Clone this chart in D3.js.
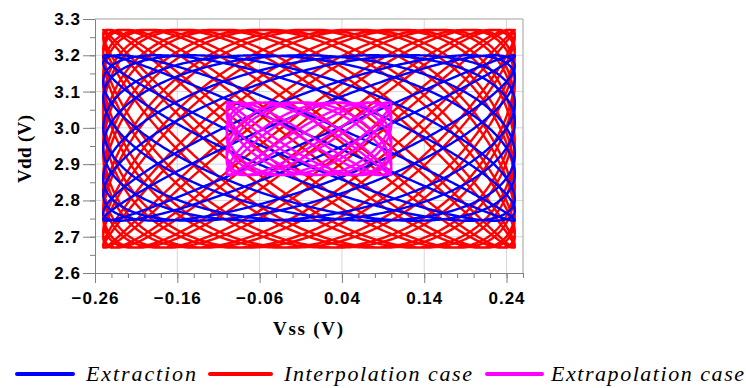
<!DOCTYPE html>
<html>
<head>
<meta charset="utf-8">
<style>
  body { margin: 0; background: #fff; }
  svg { display: block; font-family: 'Liberation Serif', 'Times New Roman', serif; }
  .axis text { font-weight: bold; font-size: 17px; letter-spacing: 1px; fill: #000; }
  .axis path, .axis line { stroke: #808080; }
  .grid line { stroke: #d6d6d6; stroke-width: 1; }
  .legend text { font-style: italic; font-size: 22px; fill: #000; }
</style>
</head>
<body>
<svg width="746" height="388"></svg>
<script src="https://cdn.jsdelivr.net/npm/d3@7/dist/d3.min.js"></script>
<script>
// legend order
let seriesNames = ["Extraction", "Interpolation case", "Extrapolation case"];
let seriesColors = ["#0000ff", "#ff0000", "#ff00ff"];

// sweep of each case: Vss swing, Vdd centre / swing, cycles
let vssAmp = [0.25, 0.25, 0.10];
let vddMid = [2.972, 2.97, 2.97];
let vddAmp = [0.228, 0.30, 0.10];
let vssCycles = [10, 19, 9];
let vddCycles = [11, 28, 13];
let vddPhase = [0.35, 0.2, 0.25];

// axis ticks
let xTicks = [-0.26, -0.16, -0.06, 0.04, 0.14, 0.24];
let yTicks = [2.6, 2.7, 2.8, 2.9, 3.0, 3.1, 3.2, 3.3];

let svg = d3.select("svg");
let margin = { left: 95, right: 523, top: 19, bottom: 273 };

let x = d3.scaleLinear().domain([-0.26, 0.26]).range([margin.left, margin.right]);
let y = d3.scaleLinear().domain([2.6, 3.3]).range([margin.bottom, margin.top]);

// grid
let grid = svg.append("g").attr("class", "grid");
grid.selectAll(".gx")
  .data(xTicks.slice(1))
  .join("line")
  .attr("x1", d => x(d)).attr("x2", d => x(d))
  .attr("y1", margin.top).attr("y2", margin.bottom);
grid.selectAll(".gy")
  .data(yTicks.slice(1, -1))
  .join("line")
  .attr("x1", margin.left).attr("x2", margin.right)
  .attr("y1", d => y(d)).attr("y2", d => y(d));

// frame top / right
svg.append("path")
  .attr("d", `M${margin.left},${margin.top}H${margin.right}V${margin.bottom}`)
  .attr("fill", "none")
  .attr("stroke", "#a0a0a0");

// curves
function sweep(i) {
  let n = 8000;
  return d3.range(n + 1).map(k => {
    let t = k / n * 2 * Math.PI;
    return {
      vss: vssAmp[i] * Math.sin(vssCycles[i] * t),
      vdd: vddMid[i] + vddAmp[i] * Math.sin(vddCycles[i] * t + vddPhase[i])
    };
  });
}

let line = d3.line().x(d => x(d.vss)).y(d => y(d.vdd));

// red underneath, then blue, magenta on top
[1, 0, 2].forEach(i => {
  svg.append("path")
    .datum(sweep(i))
    .attr("d", line)
    .attr("fill", "none")
    .attr("stroke", seriesColors[i])
    .attr("stroke-width", 2.4)
    .attr("stroke-linejoin", "round");
});

// axes
let minorX = d3.range(-0.26, 0.2601, 0.02);
let minorY = d3.range(2.6, 3.3001, 0.05);

svg.append("g")
  .attr("transform", `translate(0,${margin.bottom})`)
  .attr("class", "axis")
  .call(d3.axisBottom(x).tickValues(minorX).tickSize(5).tickFormat(""))
  .call(g => g.select(".domain").remove());
svg.append("g")
  .attr("transform", `translate(0,${margin.bottom})`)
  .attr("class", "axis")
  .call(d3.axisBottom(x).tickValues(xTicks).tickSize(10).tickSizeOuter(0)
    .tickFormat(d3.format(".2f")))
  .call(g => g.selectAll("text").attr("dy", "1.05em"));

svg.append("g")
  .attr("transform", `translate(${margin.left},0)`)
  .attr("class", "axis")
  .call(d3.axisLeft(y).tickValues(minorY).tickSize(5).tickFormat(""))
  .call(g => g.select(".domain").remove());
svg.append("g")
  .attr("transform", `translate(${margin.left},0)`)
  .attr("class", "axis")
  .call(d3.axisLeft(y).tickValues(yTicks).tickSize(12).tickSizeOuter(0)
    .tickFormat(d3.format(".1f")))
  .call(g => g.selectAll("text").attr("dx", "0.05em"));

// axis titles
svg.append("text")
  .attr("x", 308).attr("y", 335)
  .attr("text-anchor", "middle")
  .attr("textLength", 70)
  .style("font-weight", "bold").style("font-size", "19px")
  .text("Vss (V)");
svg.append("text")
  .attr("transform", "translate(31,149) rotate(-90)")
  .attr("text-anchor", "middle")
  .attr("textLength", 68)
  .style("font-weight", "bold").style("font-size", "19px")
  .text("Vdd (V)");

// legend
let legendLine = [[17, 73], [210, 271], [487, 542]];
let legendText = [86, 284, 551];
let legendWidth = [110, 188, 193];
let legend = svg.append("g").attr("class", "legend");
seriesNames.forEach((name, i) => {
  legend.append("line")
    .attr("x1", legendLine[i][0]).attr("x2", legendLine[i][1])
    .attr("y1", 374).attr("y2", 374)
    .attr("stroke", seriesColors[i])
    .attr("stroke-width", 4)
    .attr("stroke-linecap", "round");
  legend.append("text")
    .attr("x", legendText[i]).attr("y", 381)
    .attr("textLength", legendWidth[i])
    .text(name);
});
</script>
</body>
</html>
